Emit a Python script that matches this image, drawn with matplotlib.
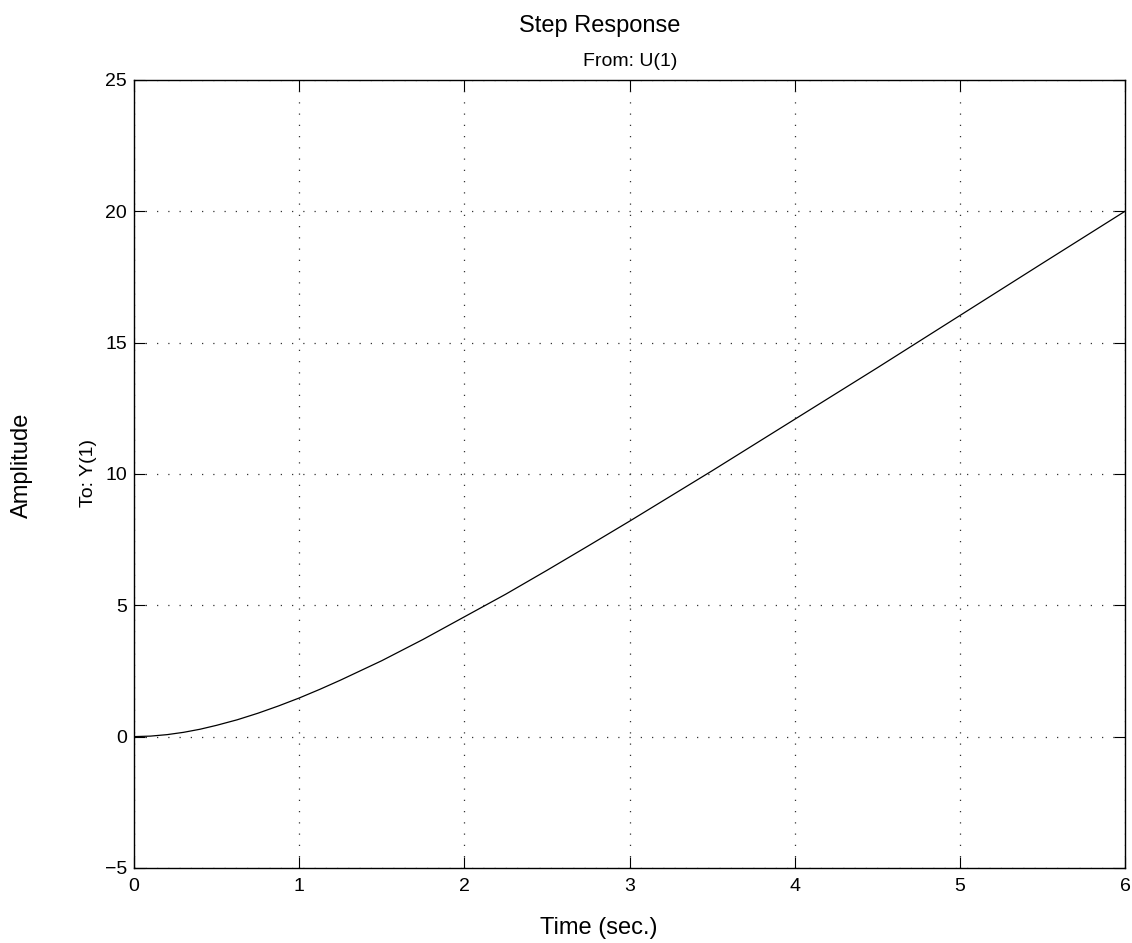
import numpy as np
import matplotlib
matplotlib.use("Agg")
import matplotlib.pyplot as plt

plt.rcParams['font.family'] = ['Liberation Sans', 'DejaVu Sans']

# step response
t = [0, 0.1, 0.2, 0.3, 0.4, 0.5, 0.625, 0.75, 0.875, 1.0, 1.125, 1.25, 1.5,
     1.75, 2.0, 2.25, 2.5, 2.75, 3.0, 3.25, 3.5, 4.0, 4.5, 5.0, 5.5, 6.0]
amp = [0, 0.019, 0.075, 0.163, 0.281, 0.43, 0.641, 0.89, 1.168, 1.47, 1.80,
       2.15, 2.89, 3.70, 4.56, 5.42, 6.33, 7.26, 8.2, 9.16, 10.12, 12.08,
       14.04, 16.03, 18.02, 20.0]

xticks = [0, 1, 2, 3, 4, 5, 6]
yticks = [-5, 0, 5, 10, 15, 20, 25]

fig = plt.figure(figsize=(11.32, 9.43), dpi=100)
ax = fig.add_axes([0.1184, 0.0796, 0.8754, 0.8356])

ax.plot(t, amp, color='black', linewidth=0.9)

ax.set_xlim(0, 6)
ax.set_ylim(-5, 25)
ax.set_xticks(xticks)
ax.set_yticks(yticks)
ax.tick_params(direction='in', length=8, width=0.8, top=True, right=True,
               labelsize=14)
ax.tick_params(axis='x', pad=7)
ax.tick_params(axis='y', pad=5)
ax.grid(True, color='#333333', linestyle=(0, (1, 8)), linewidth=0.9)
for s in ax.spines.values():
    s.set_linewidth(1.0)

fig.text(0.530, 0.9724, "Step Response", ha='center', va='center', fontsize=17)
fig.text(0.5565, 0.935, "From: U(1)", ha='center', va='center', fontsize=14)
fig.text(0.529, 0.016, "Time (sec.)", ha='center', va='center', fontsize=17)
fig.text(0.0194, 0.507, "Amplitude", ha='center', va='center', rotation=90, fontsize=17)
fig.text(0.0786, 0.498, "To: Y(1)", ha='center', va='center', rotation=90, fontsize=14)

plt.savefig("out.png", dpi=100)
